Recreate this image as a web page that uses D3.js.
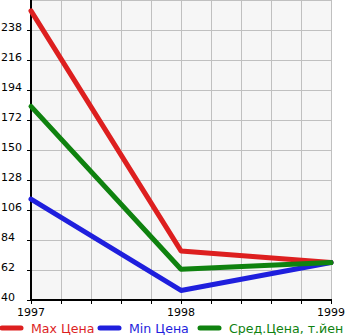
<!DOCTYPE html>
<html><head><meta charset="utf-8">
<script src="https://cdn.jsdelivr.net/npm/d3@7"></script>
<style>body{margin:0;background:#fff;} svg{display:block;font-family:"DejaVu Sans",sans-serif;}</style>
</head><body><svg id="c" width="345" height="335"></svg>
<script>
const years = [1997, 1998, 1999];
const maxPrice = [252, 76, 67.5];
const minPrice = [114, 47, 67.5];
const avgPrice = [182, 62.5, 67.5];
const yTicks = [40, 62, 84, 106, 128, 150, 172, 194, 216, 238];
const seriesNames = ["Max Цена", "Min Цена", "Сред.Цена, т.йен"];
const colors = ["#dd1f1f", "#1f1fdd", "#0f820f"];

const svg = d3.select("#c");
const L = 31, R = 331, T = 0, B = 300;
const x = d3.scaleLinear().domain([1997, 1999]).range([L, R]);
const y = d3.scaleLinear().domain([40, 260]).range([B, T]);

svg.append("rect").attr("x", L).attr("y", T).attr("width", R - L).attr("height", B - T).attr("fill", "#f6f6f6");

const g = svg.append("g");
const xGrid = d3.range(0, 11).map(i => 1997 + i * 0.2);
g.selectAll("line.vg").data(xGrid).join("line")
  .attr("x1", d => Math.round(x(d)) + 0.5).attr("x2", d => Math.round(x(d)) + 0.5)
  .attr("y1", T).attr("y2", B).attr("stroke", "#c0c0c0").attr("stroke-width", 1);
const yGrid = yTicks.concat([260]);
g.selectAll("line.hg").data(yGrid).join("line")
  .attr("x1", L).attr("x2", R + 0.5)
  .attr("y1", d => Math.round(y(d)) + 0.5).attr("y2", d => Math.round(y(d)) + 0.5)
  .attr("stroke", "#c0c0c0").attr("stroke-width", 1);

g.selectAll("line.xt").data(xGrid).join("line")
  .attr("x1", d => Math.round(x(d)) + 0.5).attr("x2", d => Math.round(x(d)) + 0.5)
  .attr("y1", B).attr("y2", B + 4).attr("stroke", "#000");
g.selectAll("line.yt").data(yTicks).join("line")
  .attr("x1", L - 4).attr("x2", L)
  .attr("y1", d => Math.round(y(d)) + 0.5).attr("y2", d => Math.round(y(d)) + 0.5)
  .attr("stroke", "#000");

svg.append("line").attr("x1", L).attr("x2", L).attr("y1", T).attr("y2", B + 1).attr("stroke", "#000").attr("stroke-width", 2);
svg.append("line").attr("x1", L - 1).attr("x2", R + 1).attr("y1", B).attr("y2", B).attr("stroke", "#000").attr("stroke-width", 2);

svg.selectAll("text.yl").data(yTicks).join("text")
  .attr("x", 1).attr("y", d => y(d) + 1).attr("font-size", 11).attr("fill", "#000")
  .text(d => d);
svg.selectAll("text.xl").data(years).join("text")
  .attr("x", d => x(d)).attr("y", 316).attr("text-anchor", "middle").attr("font-size", 11).attr("fill", "#000")
  .text(d => d);

const line = d3.line().x((d, i) => x(years[i])).y(d => y(d));
[maxPrice, minPrice, avgPrice].forEach((s, k) => {
  svg.append("path").attr("d", line(s)).attr("fill", "none").attr("stroke", colors[k])
    .attr("stroke-width", 5).attr("stroke-linejoin", "round").attr("stroke-linecap", "round");
});

const legX = [0, 98, 198];
seriesNames.forEach((n, k) => {
  svg.append("line").attr("x1", legX[k] + 2).attr("x2", legX[k] + 21).attr("y1", 328).attr("y2", 328)
    .attr("stroke", colors[k]).attr("stroke-width", 5).attr("stroke-linecap", "round");
  svg.append("text").attr("x", legX[k] + 31).attr("y", 332.5).attr("font-size", 12.6).attr("fill", colors[k]).text(n);
});
</script></body></html>
